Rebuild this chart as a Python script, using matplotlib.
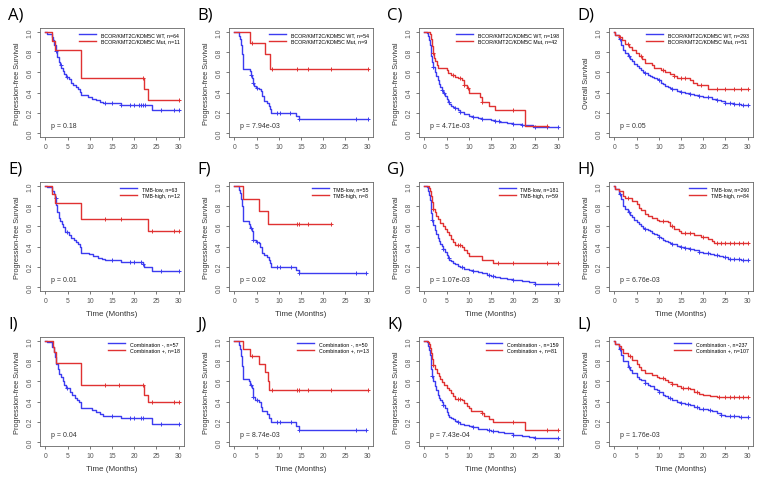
import numpy as np
import matplotlib
matplotlib.use('agg')
from matplotlib import pyplot as plt

plt.rcParams['font.family'] = ['Liberation Sans', 'DejaVu Sans']

BLUE = '#3c3cf0'
RED = '#e03232'

# ---------------- data (months, survival after each step)
# A) BCOR/KMT2C/KDM5C, PFS
a_lo_t = [0.3, 1.5, 1.8, 2.0, 2.3, 2.6, 3.0, 3.3, 3.6, 4.0, 4.3, 4.6, 5.3, 5.8, 6.3, 7.0, 7.4, 7.8, 8.0, 9.5, 10.5, 11.5, 12.3, 13.0, 17.0, 24.0]
a_lo_s = [0.98, 0.95, 0.92, 0.87, 0.81, 0.75, 0.70, 0.67, 0.64, 0.61, 0.58, 0.55, 0.53, 0.50, 0.48, 0.46, 0.44, 0.41, 0.38, 0.36, 0.34, 0.33, 0.31, 0.30, 0.28, 0.23]
a_lo_c = [2.4, 3.5, 4.8, 13.5, 15, 17, 19, 20, 21, 21.5, 22, 22.5, 26, 29, 30]
a_hi_t = [1.6, 2.2, 8.0, 22.2, 23.0]
a_hi_s = [0.91, 0.82, 0.545, 0.44, 0.33]
a_hi_c = [22.0, 30]

# B)
b_lo_t = [1.1, 1.3, 1.5, 1.7, 2.0, 3.5, 3.7, 3.9, 4.1, 4.4, 4.8, 5.5, 6.0, 6.3, 6.6, 7.4, 7.7, 8.0, 8.3, 13.8, 14.5]
b_lo_s = [0.96, 0.93, 0.87, 0.78, 0.63, 0.61, 0.57, 0.54, 0.50, 0.47, 0.45, 0.44, 0.42, 0.37, 0.32, 0.30, 0.27, 0.24, 0.20, 0.17, 0.135]
b_lo_c = [3.8, 4.3, 5.0, 9.5, 10.2, 12.5, 14.6, 27.3, 30]
b_hi_t = [3.5, 6.8, 8.0]
b_hi_s = [0.89, 0.78, 0.635]
b_hi_c = [4.0, 8.5, 14.0, 16.5, 21.7, 30]

# C)
c_lo_t = [0.5, 0.8, 1.0, 1.2, 1.4, 1.6, 1.8, 2.0, 2.3, 2.6, 3.0, 3.3, 3.6, 4.0, 4.3, 4.6, 5.0, 5.3, 5.6, 6.0, 6.5, 7.0, 7.5, 8.0, 9.0, 10.0, 11.0, 12.0, 13.0, 14.0, 15.0, 16.0, 17.0, 18.5, 20.0, 22.0, 24.5]
c_lo_s = [0.99, 0.96, 0.92, 0.87, 0.82, 0.76, 0.70, 0.65, 0.60, 0.56, 0.52, 0.49, 0.46, 0.43, 0.40, 0.37, 0.34, 0.31, 0.29, 0.27, 0.26, 0.245, 0.23, 0.21, 0.19, 0.17, 0.16, 0.15, 0.14, 0.135, 0.13, 0.12, 0.11, 0.10, 0.09, 0.08, 0.06]
c_lo_c = [2.0, 4.0, 4.5, 5.5, 7.0, 8.0, 11.0, 13.0, 16.0, 16.8, 20, 22, 25, 27.5, 30]
c_hi_t = [1.2, 1.4, 1.7, 1.9, 2.1, 2.4, 2.8, 3.1, 5.0, 5.4, 6.0, 7.0, 7.6, 8.5, 9.0, 9.5, 10.0, 12.5, 13.0, 14.5, 16.0, 22.7]
c_hi_s = [0.98, 0.93, 0.86, 0.79, 0.74, 0.71, 0.67, 0.64, 0.62, 0.59, 0.57, 0.55, 0.54, 0.52, 0.48, 0.45, 0.40, 0.36, 0.31, 0.27, 0.23, 0.07]
c_hi_c = [2.0, 6.5, 8.0, 9.0, 9.8, 13.0, 20.0, 27.5]

# D) overall survival
d_lo_t = [0.2, 1.0, 1.5, 2.0, 2.5, 3.0, 3.5, 4.0, 4.5, 5.0, 5.5, 6.0, 6.5, 7.0, 7.5, 8.0, 8.5, 9.0, 9.5, 10.0, 10.5, 11.0, 11.5, 12.0, 12.5, 13.0, 14.0, 15.0, 16.0, 17.0, 18.0, 19.0, 20.0, 21.0, 22.0, 23.0, 24.0, 25.0, 27.0, 28.5]
d_lo_s = [0.97, 0.93, 0.87, 0.82, 0.79, 0.76, 0.73, 0.71, 0.68, 0.66, 0.64, 0.62, 0.60, 0.59, 0.57, 0.56, 0.55, 0.54, 0.53, 0.52, 0.50, 0.49, 0.47, 0.46, 0.45, 0.44, 0.42, 0.41, 0.40, 0.39, 0.38, 0.37, 0.36, 0.355, 0.34, 0.33, 0.32, 0.30, 0.29, 0.28]
d_lo_c = [1.3, 3.2, 7.0, 10, 13, 15, 17, 19, 21, 23, 25, 26, 27, 28, 29, 30]
d_hi_t = [0.2, 1.0, 1.8, 2.5, 3.3, 4.0, 4.8, 5.5, 6.2, 7.0, 8.5, 9.0, 10.5, 11.5, 12.5, 13.5, 14.0, 17.0, 17.8, 18.5, 21.0]
d_hi_s = [0.97, 0.95, 0.92, 0.88, 0.85, 0.82, 0.79, 0.76, 0.73, 0.69, 0.67, 0.64, 0.62, 0.60, 0.58, 0.56, 0.54, 0.52, 0.50, 0.48, 0.44]
d_hi_c = [1.2, 3.0, 6.0, 11.0, 13.5, 15, 16, 19.5, 23, 25, 27, 28.5, 30]

# E) TMB
e_lo_t = [0.3, 1.5, 1.9, 2.2, 2.4, 2.7, 3.0, 3.3, 3.7, 4.0, 4.4, 5.3, 5.8, 6.5, 7.0, 7.4, 7.7, 8.0, 9.8, 10.8, 11.8, 12.8, 13.5, 17.0, 22.0, 22.3, 24.0]
e_lo_s = [0.99, 0.95, 0.92, 0.88, 0.81, 0.74, 0.68, 0.65, 0.62, 0.59, 0.54, 0.51, 0.49, 0.47, 0.45, 0.43, 0.40, 0.34, 0.33, 0.31, 0.29, 0.28, 0.27, 0.25, 0.23, 0.20, 0.155]
e_lo_c = [2.3, 4.8, 15, 19, 20, 21.5, 22, 26, 30]
e_hi_t = [1.6, 2.2, 8.0, 23.0]
e_hi_s = [0.92, 0.83, 0.67, 0.555]
e_hi_c = [13.5, 17, 24, 29, 30]

# F)
f_lo_t = [1.1, 1.3, 1.5, 1.7, 2.0, 3.3, 3.6, 3.9, 4.1, 4.3, 4.8, 5.5, 5.8, 6.2, 6.6, 7.3, 7.8, 8.1, 8.3, 13.8, 14.5]
f_lo_s = [0.96, 0.93, 0.87, 0.80, 0.65, 0.62, 0.58, 0.55, 0.50, 0.47, 0.45, 0.44, 0.40, 0.34, 0.32, 0.30, 0.27, 0.24, 0.20, 0.17, 0.135]
f_lo_c = [3.8, 4.3, 5.0, 9.7, 10.3, 12.7, 14.6, 27.4, 29.7]
f_hi_t = [2.0, 5.5, 7.5]
f_hi_s = [0.875, 0.75, 0.625]
f_hi_c = [14.2, 14.6, 16.5, 21.8]

# G)
g_lo_t = [0.5, 0.8, 1.0, 1.2, 1.4, 1.6, 1.8, 2.0, 2.3, 2.6, 3.0, 3.3, 3.6, 4.0, 4.3, 4.6, 5.0, 5.3, 5.6, 6.0, 6.5, 7.0, 7.5, 8.0, 9.0, 10.0, 11.0, 12.0, 13.0, 14.0, 15.0, 16.0, 17.0, 18.5, 20.0, 22.0, 23.5, 25.0]
g_lo_s = [0.99, 0.95, 0.91, 0.86, 0.80, 0.73, 0.66, 0.61, 0.56, 0.52, 0.49, 0.46, 0.43, 0.41, 0.38, 0.35, 0.32, 0.29, 0.27, 0.255, 0.24, 0.23, 0.21, 0.20, 0.18, 0.17, 0.155, 0.145, 0.135, 0.12, 0.11, 0.10, 0.09, 0.08, 0.07, 0.06, 0.05, 0.03]
g_lo_c = [1.8, 4.3, 5.5, 8.5, 11, 14.5, 15.5, 20, 25, 30]
g_hi_t = [1.0, 1.3, 1.5, 1.7, 2.0, 2.3, 2.7, 3.1, 3.6, 4.1, 4.6, 5.0, 5.5, 6.0, 6.5, 7.0, 8.5, 9.0, 9.5, 10.0, 13.0, 15.5]
g_hi_s = [0.98, 0.95, 0.90, 0.84, 0.77, 0.74, 0.70, 0.67, 0.63, 0.60, 0.57, 0.54, 0.51, 0.48, 0.45, 0.42, 0.40, 0.37, 0.34, 0.31, 0.27, 0.24]
g_hi_c = [2.0, 7.5, 8.0, 16.5, 20, 27.5, 30]

# H)
h_lo_t = [0.2, 1.0, 1.5, 2.0, 2.5, 3.0, 3.5, 4.0, 4.5, 5.0, 5.5, 6.0, 6.5, 7.0, 7.5, 8.0, 8.5, 9.0, 9.5, 10.0, 10.5, 11.0, 11.5, 12.0, 12.5, 13.0, 14.0, 15.0, 16.0, 17.0, 18.0, 19.0, 20.0, 21.5, 22.5, 23.5, 24.5, 25.5, 28.5]
h_lo_s = [0.97, 0.92, 0.87, 0.80, 0.77, 0.74, 0.71, 0.69, 0.66, 0.64, 0.62, 0.60, 0.585, 0.57, 0.56, 0.55, 0.535, 0.52, 0.51, 0.50, 0.485, 0.47, 0.46, 0.45, 0.44, 0.43, 0.41, 0.40, 0.39, 0.38, 0.37, 0.35, 0.34, 0.33, 0.32, 0.31, 0.30, 0.28, 0.27]
h_lo_c = [1.2, 3.3, 7, 10, 13, 15, 16, 17, 19, 21, 23, 25, 26, 27, 28, 29, 30]
h_hi_t = [0.2, 1.0, 2.0, 2.5, 4.0, 5.0, 5.5, 6.0, 7.0, 7.5, 8.5, 9.5, 10.0, 12.0, 12.5, 13.5, 14.5, 15.0, 18.0, 19.5, 21.0, 22.0, 22.5]
h_hi_s = [0.97, 0.95, 0.90, 0.88, 0.85, 0.82, 0.78, 0.76, 0.72, 0.70, 0.68, 0.66, 0.65, 0.64, 0.60, 0.57, 0.55, 0.53, 0.51, 0.50, 0.48, 0.46, 0.44]
h_hi_c = [3.0, 11, 13, 16, 17, 20, 23, 24, 25, 26, 27, 28, 29, 30]

# I) Combination
i_lo_t = [0.3, 1.5, 1.9, 2.2, 2.5, 2.8, 3.1, 3.5, 3.9, 4.2, 4.6, 5.5, 6.0, 6.6, 7.2, 7.6, 8.0, 10.5, 11.5, 12.2, 13.0, 17.0, 24.0]
i_lo_s = [0.99, 0.94, 0.89, 0.84, 0.77, 0.72, 0.67, 0.64, 0.60, 0.56, 0.53, 0.50, 0.47, 0.44, 0.42, 0.40, 0.34, 0.32, 0.30, 0.28, 0.26, 0.24, 0.18]
i_lo_c = [4.8, 15, 19, 20, 21.5, 22, 26, 30]
i_hi_t = [1.7, 2.0, 2.3, 2.5, 8.0, 22.3, 23.0]
i_hi_s = [0.94, 0.89, 0.83, 0.78, 0.56, 0.47, 0.40]
i_hi_c = [13.5, 16.5, 22.0, 24, 29, 30]

# J)
j_lo_t = [1.1, 1.3, 1.5, 1.7, 2.0, 3.3, 3.6, 3.9, 4.1, 4.3, 4.6, 5.5, 6.0, 6.3, 7.3, 7.8, 8.2, 13.8, 14.5]
j_lo_s = [0.96, 0.92, 0.85, 0.75, 0.62, 0.60, 0.56, 0.53, 0.49, 0.45, 0.42, 0.40, 0.35, 0.31, 0.28, 0.24, 0.20, 0.16, 0.12]
j_lo_c = [3.8, 4.3, 5.0, 9.7, 10.3, 12.7, 14.6, 27.4, 29.7]
j_hi_t = [2.0, 3.5, 5.5, 6.8, 7.6, 7.9]
j_hi_s = [0.92, 0.85, 0.77, 0.69, 0.60, 0.51]
j_hi_c = [4.0, 8.5, 14.2, 14.6, 16.5, 21.8, 30]

# K)
k_lo_t = [0.5, 0.8, 1.0, 1.2, 1.4, 1.6, 1.8, 2.0, 2.3, 2.6, 3.0, 3.3, 3.6, 4.0, 4.3, 4.6, 5.0, 5.3, 5.6, 6.0, 6.5, 7.0, 7.5, 8.0, 9.0, 10.0, 11.0, 12.0, 14.0, 15.0, 16.5, 18.0, 20.0, 22.0, 23.5, 25.0]
k_lo_s = [0.99, 0.95, 0.91, 0.86, 0.79, 0.72, 0.65, 0.60, 0.55, 0.51, 0.47, 0.44, 0.42, 0.40, 0.37, 0.34, 0.30, 0.27, 0.25, 0.24, 0.225, 0.21, 0.195, 0.18, 0.17, 0.155, 0.145, 0.13, 0.12, 0.11, 0.10, 0.09, 0.07, 0.06, 0.05, 0.035]
k_lo_c = [1.8, 4.3, 7.5, 11, 14.5, 15.5, 20, 25, 30]
k_hi_t = [0.8, 1.0, 1.3, 1.5, 1.7, 2.0, 2.4, 2.8, 3.2, 3.6, 4.0, 4.5, 5.0, 5.5, 6.0, 6.5, 7.0, 8.5, 9.0, 9.5, 10.0, 10.5, 13.0, 13.5, 14.5, 15.5, 22.7]
k_hi_s = [0.99, 0.97, 0.93, 0.88, 0.82, 0.76, 0.72, 0.68, 0.65, 0.62, 0.59, 0.56, 0.53, 0.51, 0.49, 0.46, 0.43, 0.42, 0.39, 0.36, 0.34, 0.31, 0.29, 0.26, 0.23, 0.20, 0.12]
k_hi_c = [2.0, 7.5, 8.0, 13.0, 20, 27.5, 30]

# L)
l_lo_t = [0.2, 1.0, 1.5, 2.0, 3.0, 3.5, 4.0, 5.0, 5.5, 6.0, 7.0, 7.5, 8.0, 9.0, 9.5, 10.0, 11.0, 11.5, 12.0, 13.0, 14.0, 15.0, 16.0, 17.0, 18.0, 19.0, 21.0, 22.0, 23.0, 24.0, 25.0, 28.0, 29.0]
l_lo_s = [0.97, 0.92, 0.86, 0.80, 0.74, 0.71, 0.68, 0.64, 0.62, 0.61, 0.58, 0.56, 0.55, 0.52, 0.51, 0.50, 0.47, 0.46, 0.44, 0.42, 0.40, 0.39, 0.38, 0.37, 0.35, 0.33, 0.32, 0.31, 0.29, 0.27, 0.26, 0.25, 0.245]
l_lo_c = [1.2, 3.2, 7, 10, 12.5, 15, 16.5, 18.5, 20, 21.5, 24, 26, 27, 28.5, 30]
l_hi_t = [0.2, 1.0, 1.5, 2.0, 3.0, 4.0, 5.0, 5.5, 6.0, 7.0, 8.5, 9.5, 10.0, 11.5, 12.0, 13.0, 14.0, 15.0, 17.0, 18.0, 19.0, 20.0, 21.5, 22.5, 23.0]
l_hi_s = [0.97, 0.95, 0.92, 0.88, 0.85, 0.81, 0.77, 0.74, 0.71, 0.68, 0.66, 0.64, 0.63, 0.61, 0.59, 0.57, 0.55, 0.53, 0.52, 0.50, 0.48, 0.47, 0.46, 0.455, 0.45]
l_hi_c = [3.5, 11, 13, 15.5, 16.5, 18.5, 23.5, 25, 26, 27, 28, 29, 30]

letters = ['A)', 'B)', 'C)', 'D)', 'E)', 'F)', 'G)', 'H)', 'I)', 'J)', 'K)', 'L)']
p_values = ['0.18', '7.94e-03', '4.71e-03', '0.05', '0.01', '0.02', '1.07e-03', '6.76e-03',
            '0.04', '8.74e-03', '7.43e-04', '1.76e-03']
n_low = [64, 54, 198, 293, 63, 55, 181, 260, 57, 50, 159, 237]
n_high = [11, 9, 42, 51, 12, 8, 59, 84, 18, 13, 81, 107]
group_names = [('BCOR/KMT2C/KDM5C WT', 'BCOR/KMT2C/KDM5C Mut'),
               ('TMB-low', 'TMB-high'),
               ('Combination -', 'Combination +')]
y_labels = ['Progression-free Survival'] * 12
y_labels[3] = 'Overall Survival'

series = [
    (a_lo_t, a_lo_s, a_lo_c, a_hi_t, a_hi_s, a_hi_c),
    (b_lo_t, b_lo_s, b_lo_c, b_hi_t, b_hi_s, b_hi_c),
    (c_lo_t, c_lo_s, c_lo_c, c_hi_t, c_hi_s, c_hi_c),
    (d_lo_t, d_lo_s, d_lo_c, d_hi_t, d_hi_s, d_hi_c),
    (e_lo_t, e_lo_s, e_lo_c, e_hi_t, e_hi_s, e_hi_c),
    (f_lo_t, f_lo_s, f_lo_c, f_hi_t, f_hi_s, f_hi_c),
    (g_lo_t, g_lo_s, g_lo_c, g_hi_t, g_hi_s, g_hi_c),
    (h_lo_t, h_lo_s, h_lo_c, h_hi_t, h_hi_s, h_hi_c),
    (i_lo_t, i_lo_s, i_lo_c, i_hi_t, i_hi_s, i_hi_c),
    (j_lo_t, j_lo_s, j_lo_c, j_hi_t, j_hi_s, j_hi_c),
    (k_lo_t, k_lo_s, k_lo_c, k_hi_t, k_hi_s, k_hi_c),
    (l_lo_t, l_lo_s, l_lo_c, l_hi_t, l_hi_s, l_hi_c),
]


def km_curve(ax, t, s, cens, color, label):
    t = np.asarray(t, float)
    s = np.asarray(s, float)
    c = np.asarray(cens, float)
    end = max(t[-1], c.max())
    x = np.r_[0, t, end]
    y = np.r_[1.0, s, s[-1]]
    ax.step(x, y, where='post', color=color, lw=1.0, label=label)
    idx = np.searchsorted(t, c, side='right') - 1
    cy = np.where(idx >= 0, s[np.clip(idx, 0, None)], 1.0)
    ax.plot(c, cy, '+', color=color, ms=3.4, mew=0.7, ls='none')


W, H = 766, 481
fig = plt.figure(figsize=(W / 100, H / 100), dpi=100)

col_left = [40, 229, 419, 609]
row_top = [29, 183, 338]
box_w, box_h = 144, 109

for k in range(12):
    r, c = divmod(k, 4)
    L, T = col_left[c], row_top[r]
    ax = fig.add_axes([L / W, 1 - (T + box_h) / H, box_w / W, box_h / H])
    lo_t, lo_s, lo_c, hi_t, hi_s, hi_c = series[k]
    g_lo, g_hi = group_names[r]
    km_curve(ax, lo_t, lo_s, lo_c, BLUE, f'{g_lo}, n={n_low[k]}')
    km_curve(ax, hi_t, hi_s, hi_c, RED, f'{g_hi}, n={n_high[k]}')

    ax.set_xlim(-1.2, 31.2)
    ax.set_ylim(-0.04, 1.04)
    ax.set_xticks(range(0, 31, 5))
    ax.set_yticks(np.arange(0, 1.01, 0.2))
    ax.set_yticklabels([f'{v:.1f}' for v in np.arange(0, 1.01, 0.2)],
                       rotation=90, va='center')
    ax.tick_params(labelsize=4.9, length=2.5, width=0.5, pad=2,
                   colors='#444444', labelcolor='#555555')
    for sp in ax.spines.values():
        sp.set_linewidth(0.6)
        sp.set_color('#666666')
    ax.set_ylabel(y_labels[k], fontsize=5.3, color='#333333', labelpad=4)
    if r > 0:
        ax.set_xlabel('Time (Months)', fontsize=5.8, color='#333333', labelpad=4)
    ax.text(1.2, 0.07, f'p = {p_values[k]}', fontsize=5.0, color='#333333',
            va='center')
    ax.legend(loc='upper right', frameon=False, fontsize=3.8, handlelength=3.2,
              handletextpad=0.9, labelspacing=0.25, borderaxespad=0.6,
              borderpad=0.2)
    fig.text((L - 32) / W, 1 - (T - 13) / H, letters[k], fontsize=12,
             family=['Open Sans', 'DejaVu Sans'], va='center', ha='left')

fig.savefig('out.png', dpi=100)
